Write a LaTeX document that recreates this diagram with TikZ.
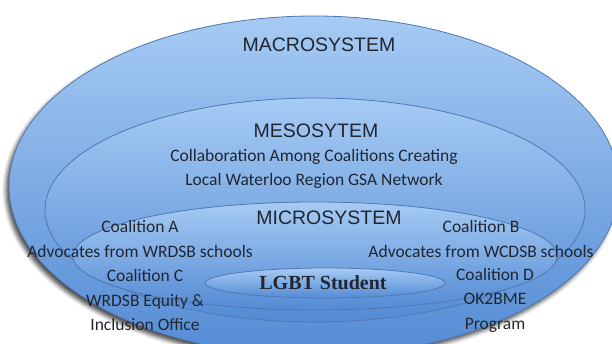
\documentclass[tikz,border=0pt]{standalone}
\usepackage{fontspec}
\setmainfont{Carlito}
\newfontfamily\headfont{Liberation Sans}
\newfontfamily\centrefont{Liberation Serif}
\usetikzlibrary{shapes.geometric,shadows.blur}
\definecolor{ringtop}{RGB}{166,203,244}
\definecolor{ringbot}{RGB}{84,139,212}
\definecolor{ringline}{RGB}{80,120,178}
\definecolor{inktext}{RGB}{34,38,48}
\tikzstyle{ring} = [draw=ringline, ellipse, inner sep=0pt, line width=0.8pt, top color=ringtop, bottom color=ringbot]
\tikzstyle{heading} = [font=\headfont\fontsize{19.5}{22}\selectfont, text=inktext]
\tikzstyle{note} = [font=\fontsize{17.5}{24.5}\selectfont, text=inktext, align=center]

\begin{document}
\begin{tikzpicture}[x=1pt, y=-1pt]
        \useasboundingbox (0,0) rectangle (612,343);
        \clip (0,0) rectangle (612,343);
        % nested systems
        \node[ring, minimum width=610pt, minimum height=340pt, blur shadow={shadow xshift=-3pt, shadow yshift=-4pt, shadow opacity=70, shadow blur radius=4pt}] (macro) at (314,186) {};
        \node[ring, minimum width=540pt, minimum height=224pt] (meso) at (315,210) {};
        \node[ring, minimum width=484pt, minimum height=108pt] (micro) at (315,256) {};
        \node[ring, minimum width=240pt, minimum height=30pt] (student) at (325,283) {};
        % headings
        \node[heading] (macrotitle) at (319,45) {MACROSYSTEM};
        \node[heading] (mesotitle) at (316,131) {MESOSYTEM};
        \node[note] (mesotext) at (314,169) {Collaboration Among Coalitions Creating\\Local Waterloo Region GSA Network};
        \node[heading] (microtitle) at (329,218) {MICROSYSTEM};
        % coalitions
        \node[note] (coala) at (140,239) {Coalition A\\Advocates from WRDSB schools};
        \node[note] (coalb) at (481,239) {Coalition B\\Advocates from WCDSB schools};
        \node[note] (coalc) at (145,300) {Coalition C\\WRDSB Equity \&\\Inclusion Office};
        \node[note] (coald) at (495,300) {Coalition D\\OK2BME\\Program};
        \node[font=\centrefont\bfseries\fontsize{20}{22}\selectfont, text=inktext] (studenttext) at (323,283) {LGBT Student};
\end{tikzpicture}
\end{document}
